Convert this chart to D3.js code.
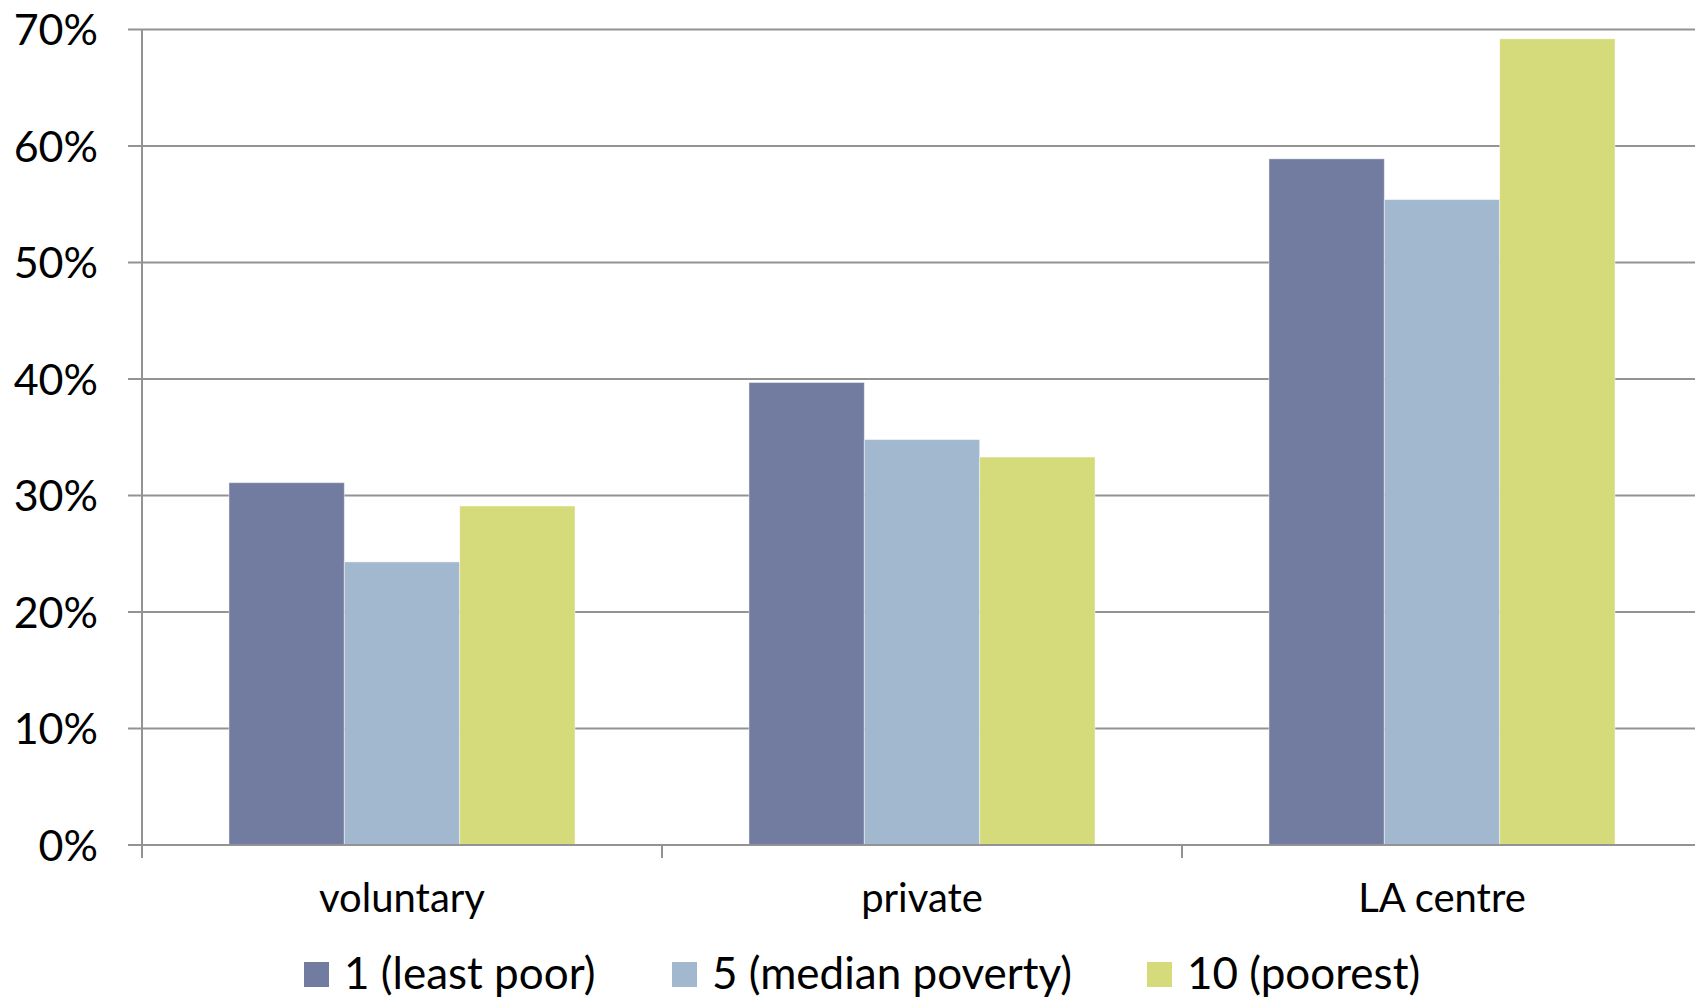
<!DOCTYPE html>
<html>
<head>
<meta charset="utf-8">
<script src="https://cdn.jsdelivr.net/npm/d3@7"></script>
<style>
  html, body { margin: 0; padding: 0; background: #fff; }
  svg { display: block; }
  text { font-family: Lato, "Open Sans", sans-serif; fill: #000; }
</style>
</head>
<body>
<svg id="chart" width="1695" height="1001"></svg>
<script>
// Share of places by provider type and area poverty decile
const categories = ["voluntary", "private", "LA centre"];
const seriesNames = ["1 (least poor)", "5 (median poverty)", "10 (poorest)"];
const leastPoor = [31.1, 39.7, 58.9];
const medianPoverty = [24.3, 34.8, 55.4];
const poorest = [29.1, 33.3, 69.2];
const yTickValues = [0, 10, 20, 30, 40, 50, 60, 70];
const yTickLabels = ["0%", "10%", "20%", "30%", "40%", "50%", "60%", "70%"];
const colors = ["#727ba0", "#a2b8ce", "#d5da7a"];

const series = [leastPoor, medianPoverty, poorest];

const svg = d3.select("#chart");
const plotLeft = 142, plotTop = 29.5, plotBottom = 845, bandW = 520;
const plotRight = plotLeft + bandW * categories.length;

const x = d3.scaleBand().domain(categories).range([plotLeft, plotRight]).paddingInner(0).paddingOuter(0);
const inner = d3.scaleBand().domain(d3.range(series.length)).range([0, x.bandwidth()]).paddingOuter(0.754).paddingInner(0);
const y = d3.scaleLinear().domain([0, 70]).range([plotBottom, plotTop]);

// Horizontal gridlines (extend slightly left of the axis as tick marks)
svg.append("g").selectAll("line").data(yTickValues).join("line")
  .attr("x1", plotLeft - 14).attr("x2", 1695)
  .attr("y1", d => y(d)).attr("y2", d => y(d))
  .attr("stroke", "#939393").attr("stroke-width", 2);

// Bars
const groups = svg.append("g").selectAll("g").data(categories).join("g")
  .attr("transform", c => `translate(${x(c)},0)`);
groups.selectAll("rect")
  .data((c, ci) => series.map((s, si) => ({ si, v: s[ci] })))
  .join("rect")
  .attr("x", d => inner(d.si))
  .attr("width", inner.bandwidth())
  .attr("y", d => y(d.v))
  .attr("height", d => plotBottom - y(d.v))
  .attr("fill", d => colors[d.si])
  .attr("stroke", "rgba(255,255,255,0.45)")
  .attr("stroke-width", 1);

// Y axis
const yAxis = d3.axisLeft(y).tickValues(yTickValues)
  .tickFormat((d, i) => yTickLabels[i]).tickSize(0).tickPadding(44);
const gy = svg.append("g").attr("transform", `translate(${plotLeft},0)`).call(yAxis);
gy.select(".domain").remove();
gy.selectAll("text").style("font-size", "43px").attr("dy", "0.36em");
svg.append("line").attr("x1", plotLeft).attr("x2", plotLeft).attr("y1", plotTop).attr("y2", plotBottom + 13)
  .attr("stroke", "#939393").attr("stroke-width", 2);

// X axis: baseline, boundary ticks, category labels
svg.append("line").attr("x1", plotLeft - 14).attr("x2", 1695).attr("y1", plotBottom).attr("y2", plotBottom)
  .attr("stroke", "#939393").attr("stroke-width", 2);
const xAxis = d3.axisBottom(x).tickSize(0).tickPadding(39);
const gx = svg.append("g").attr("transform", `translate(0,${plotBottom})`).call(xAxis);
gx.select(".domain").remove();
gx.selectAll("text").style("font-size", "40px");
svg.append("g").selectAll("line").data(categories).join("line")
  .attr("x1", c => x(c)).attr("x2", c => x(c))
  .attr("y1", plotBottom).attr("y2", plotBottom + 13)
  .attr("stroke", "#939393").attr("stroke-width", 2);

// Legend
const legendX = [304, 672, 1147];
const lg = svg.append("g").selectAll("g").data(seriesNames).join("g")
  .attr("transform", (d, i) => `translate(${legendX[i]},962)`);
lg.append("rect").attr("width", 25).attr("height", 25).attr("fill", (d, i) => colors[i]);
lg.append("text").attr("x", 40).attr("y", 27).style("font-size", "44px").text(d => d);
</script>
</body>
</html>
